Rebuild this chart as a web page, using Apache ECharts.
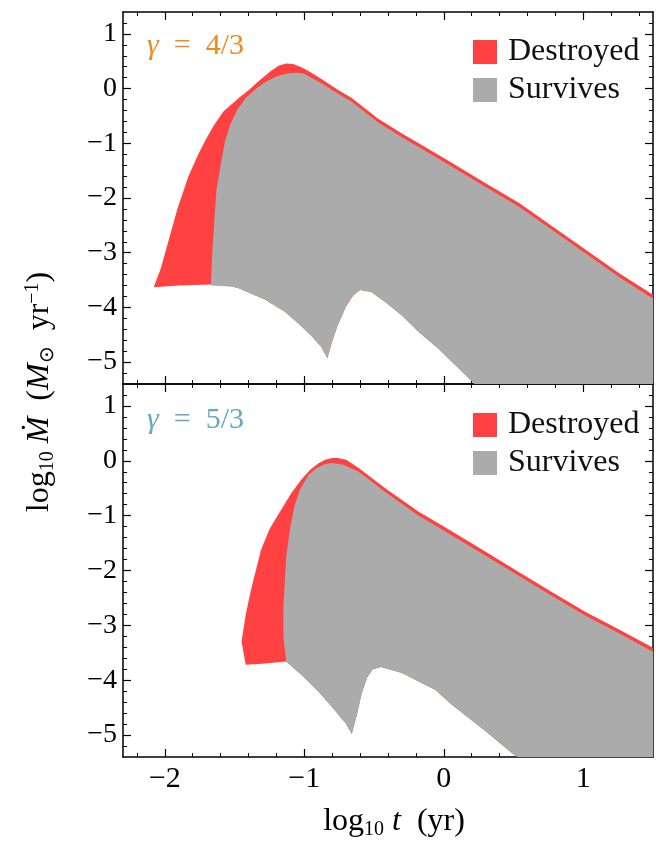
<!DOCTYPE html>
<html>
<head>
<meta charset="utf-8">
<script src="https://cdn.jsdelivr.net/npm/echarts@6/dist/echarts.min.js"></script>
<style>html,body{margin:0;padding:0;background:#fff}#c{width:656px;height:841px}</style>
</head>
<body>
<div id="c"></div>
<script>
// ---- axis ticks ----
const xMajor = [-2, -1, 0, 1];
const xMinor = [-2.2, -1.8, -1.6, -1.4, -1.2, -0.8, -0.6, -0.4, -0.2, 0.2, 0.4, 0.6, 0.8, 1.2, 1.4];
const yMajor = [-5, -4, -3, -2, -1, 0, 1];
const yMinor = [-5.2, -4.8, -4.6, -4.4, -4.2, -3.8, -3.6, -3.4, -3.2, -2.8, -2.6, -2.4, -2.2,
                -1.8, -1.6, -1.4, -1.2, -0.8, -0.6, -0.4, -0.2, 0.2, 0.4, 0.6, 0.8, 1.2];

// ---- gamma = 4/3 panel ----
// upper envelope (Destroyed outer edge)
const outerA = [[-2.08,-3.63],[-2.03,-3.3],[-1.97,-2.75],[-1.91,-2.2],[-1.83,-1.6],[-1.76,-1.2],
  [-1.71,-0.95],[-1.65,-0.68],[-1.58,-0.42],[-1.47,-0.17],[-1.40,-0.03],[-1.33,0.13],[-1.24,0.32],
  [-1.18,0.42],[-1.13,0.46],[-1.08,0.45],[-1.03,0.4],[-0.97,0.32],[-0.88,0.18],[-0.76,-0.02],
  [-0.66,-0.17],[-0.47,-0.55],[-0.30,-0.82],[-0.18,-1.0],[0.06,-1.36],[0.30,-1.73],[0.54,-2.09],
  [0.78,-2.52],[1.02,-2.95],[1.26,-3.38],[1.5,-3.77]];
// Survives upper edge (boundary with Destroyed)
const innerA = [[-1.67,-3.6],[-1.66,-3.0],[-1.645,-2.4],[-1.63,-1.85],[-1.60,-1.4],[-1.57,-0.98],
  [-1.53,-0.65],[-1.48,-0.38],[-1.42,-0.17],[-1.35,-0.01],[-1.28,0.12],[-1.20,0.22],[-1.13,0.27],
  [-1.06,0.29],[-1.0,0.27],[-0.95,0.2],[-0.88,0.1],[-0.76,-0.09],[-0.66,-0.24],[-0.47,-0.62],
  [-0.30,-0.89],[-0.18,-1.07],[0.06,-1.43],[0.30,-1.8],[0.54,-2.16],[0.78,-2.59],[1.02,-3.02],
  [1.26,-3.45],[1.5,-3.84]];
// lower edge of the whole region
const lowerA = [[-2.08,-3.63],[-1.9,-3.6],[-1.67,-3.58],[-1.52,-3.62],[-1.47,-3.65],[-1.28,-3.86],
  [-1.14,-4.08],[-1.04,-4.3],[-0.95,-4.52],[-0.88,-4.72],[-0.835,-4.93],[-0.80,-4.62],[-0.76,-4.32],
  [-0.70,-3.98],[-0.65,-3.78],[-0.60,-3.68],[-0.52,-3.72],[-0.42,-3.9],[-0.30,-4.15],[-0.18,-4.45],
  [-0.04,-4.75],[0.08,-5.05],[0.22,-5.4],[1.5,-5.4]];

// ---- gamma = 5/3 panel ----
const outerB = [[-1.42,-3.72],[-1.45,-3.3],[-1.42,-2.8],[-1.38,-2.33],[-1.31,-1.62],[-1.25,-1.25],
  [-1.18,-0.95],[-1.09,-0.58],[-1.02,-0.34],[-0.96,-0.17],[-0.90,-0.05],[-0.85,0.02],[-0.80,0.05],
  [-0.76,0.05],[-0.70,0.02],[-0.61,-0.13],[-0.42,-0.5],[-0.18,-0.93],[0.0,-1.2],[0.30,-1.66],
  [0.54,-2.03],[0.78,-2.4],[1.02,-2.76],[1.26,-3.08],[1.5,-3.41]];
const innerB = [[-1.13,-3.66],[-1.15,-3.2],[-1.15,-2.66],[-1.13,-1.75],[-1.10,-1.2],[-1.07,-0.82],
  [-1.03,-0.52],[-0.97,-0.26],[-0.91,-0.13],[-0.85,-0.06],[-0.80,-0.04],[-0.72,-0.07],[-0.61,-0.2],
  [-0.42,-0.57],[-0.18,-1.0],[0.0,-1.27],[0.30,-1.73],[0.54,-2.1],[0.78,-2.47],[1.02,-2.83],
  [1.26,-3.15],[1.5,-3.48]];
const lowerB = [[-1.42,-3.72],[-1.3,-3.7],[-1.13,-3.66],[-1.0,-3.95],[-0.9,-4.2],[-0.78,-4.55],
  [-0.70,-4.8],[-0.66,-4.98],[-0.62,-4.6],[-0.59,-4.25],[-0.55,-3.95],[-0.51,-3.8],[-0.45,-3.76],
  [-0.30,-3.87],[-0.06,-4.18],[0.06,-4.45],[0.30,-4.93],[0.49,-5.33],[0.53,-5.4],[1.5,-5.4]];

const RED = '#FF4141', GRAY = '#ABABAB';
const FONT = 'Liberation Serif';

function polys(outer, inner, lower) {
  const low = lower.slice(0, lower.length - 1); // drop frame corner
  const corner = lower[lower.length - 1];
  const red = outer.concat([corner], low.slice().reverse());
  const grayLow = low.filter(p => p[0] > inner[0][0]);
  const gray = inner.concat([corner], grayLow.slice().reverse());
  return { red, gray };
}
const PA = polys(outerA, innerA, lowerA);
const PB = polys(outerB, innerB, lowerB);

function polySeries(name, pts, color, axisIdx) {
  return {
    type: 'custom', name, xAxisIndex: axisIdx, yAxisIndex: axisIdx, clip: true,
    itemStyle: { color }, data: pts, encode: { x: 0, y: 1 }, silent: true,
    renderItem: function (params, api) {
      if (params.dataIndex !== 0) return null;
      return { type: 'polygon', shape: { points: pts.map(p => api.coord(p)) }, style: { fill: color } };
    }
  };
}

const minus = v => String(v).replace('-', '\u2212');
const lineStyle = { color: '#000', width: 1.5 };

function xAxes(gi, showLabels) {
  const base = { gridIndex: gi, type: 'value', min: -2.3, max: 1.5, splitLine: { show: false } };
  return [
    Object.assign({}, base, { position: 'bottom', axisLine: { show: true, onZero: false, lineStyle },
      axisTick: { show: true, inside: true, length: 8, customValues: xMajor, lineStyle: { color: '#000', width: 1.2 } },
      axisLabel: { show: showLabels, customValues: xMajor, formatter: minus, margin: 7,
        fontFamily: FONT, fontSize: 30, color: '#000' } }),
    Object.assign({}, base, { position: 'bottom', axisLine: { show: false, onZero: false },
      axisTick: { show: true, inside: true, length: 4, customValues: xMinor, lineStyle: { color: '#000', width: 1 } },
      axisLabel: { show: false } }),
    Object.assign({}, base, { position: 'top', axisLine: { show: true, onZero: false, lineStyle },
      axisTick: { show: true, inside: true, length: 8, customValues: xMajor, lineStyle: { color: '#000', width: 1.2 } },
      axisLabel: { show: false } }),
    Object.assign({}, base, { position: 'top', axisLine: { show: false, onZero: false },
      axisTick: { show: true, inside: true, length: 4, customValues: xMinor, lineStyle: { color: '#000', width: 1 } },
      axisLabel: { show: false } })
  ];
}
function yAxes(gi) {
  const base = { gridIndex: gi, type: 'value', min: -5.4, max: 1.4, splitLine: { show: false } };
  return [
    Object.assign({}, base, { position: 'left', axisLine: { show: true, onZero: false, lineStyle },
      axisTick: { show: true, inside: true, length: 8, customValues: yMajor, lineStyle: { color: '#000', width: 1.2 } },
      axisLabel: { show: true, customValues: yMajor, formatter: minus, margin: 6,
        fontFamily: FONT, fontSize: 28, color: '#000' } }),
    Object.assign({}, base, { position: 'left', axisLine: { show: false, onZero: false },
      axisTick: { show: true, inside: true, length: 4, customValues: yMinor, lineStyle: { color: '#000', width: 1 } },
      axisLabel: { show: false } }),
    Object.assign({}, base, { position: 'right', axisLine: { show: true, onZero: false, lineStyle },
      axisTick: { show: true, inside: true, length: 8, customValues: yMajor, lineStyle: { color: '#000', width: 1.2 } },
      axisLabel: { show: false } }),
    Object.assign({}, base, { position: 'right', axisLine: { show: false, onZero: false },
      axisTick: { show: true, inside: true, length: 4, customValues: yMinor, lineStyle: { color: '#000', width: 1 } },
      axisLabel: { show: false } })
  ];
}

function legendAt(top) {
  return {
    data: ['Destroyed', 'Survives'], orient: 'vertical', left: 468, top: top,
    icon: 'rect', itemWidth: 24, itemHeight: 24, itemGap: 6, selectedMode: false,
    textStyle: { fontFamily: FONT, fontSize: 32, color: '#111', padding: [0, 0, 0, 6] }
  };
}

function gammaText(label, y, color) {
  return {
    type: 'text', left: 147, top: y, silent: true,
    style: {
      rich: {
        g: { fontFamily: FONT, fontStyle: 'italic', fontSize: 30, fill: color },
        t: { fontFamily: FONT, fontSize: 30, fill: color }
      },
      text: '{g|\u03b3}{t|\u2002=\u2002' + label + '}'
    }
  };
}

const chart = echarts.init(document.getElementById('c'), null, { renderer: 'canvas' });
chart.setOption({
  backgroundColor: '#fff',
  animation: false,
  grid: [
    { left: 123, top: 12, width: 530, height: 372 },
    { left: 123, top: 384, width: 530, height: 373 }
  ],
  xAxis: xAxes(0, false).concat(xAxes(1, true)),
  yAxis: yAxes(0).concat(yAxes(1)),
  legend: [legendAt(31), legendAt(404)],
  series: [
    polySeries('Destroyed', PA.red, RED, 0),
    polySeries('Survives', PA.gray, GRAY, 0),
    polySeries('Destroyed', PB.red, RED, 4),
    polySeries('Survives', PB.gray, GRAY, 4)
  ],
  graphic: [
    gammaText('4/3', 31, '#EE8A1E'),
    gammaText('5/3', 405, '#68A8C0'),
    {
      type: 'text', x: 394, y: 822, silent: true,
      style: {
        align: 'center', verticalAlign: 'middle',
        rich: {
          n: { fontFamily: FONT, fontSize: 32, fill: '#000' },
          s: { fontFamily: FONT, fontSize: 20, fill: '#000', padding: [15, 0, 0, 0] },
          i: { fontFamily: FONT, fontSize: 32, fontStyle: 'italic', fill: '#000' }
        },
        text: '{n|log}{s|10}{i| t}{n|\u2002(yr)}'
      }
    },
    {
      type: 'text', x: 40, y: 392, rotation: Math.PI / 2, silent: true,
      style: {
        align: 'center', verticalAlign: 'middle',
        rich: {
          n: { fontFamily: FONT, fontSize: 32, fill: '#000' },
          s: { fontFamily: FONT, fontSize: 20, fill: '#000', padding: [15, 0, 0, 0] },
          p: { fontFamily: FONT, fontSize: 20, fill: '#000', padding: [0, 0, 15, 0] },
          i: { fontFamily: FONT, fontSize: 32, fontStyle: 'italic', fill: '#000' }
        },
        text: '{n|log}{s|10}{i| \u1E40}{n|\u2002(}{i|M}{s|\u2299}{n|\u2002yr}{p|\u22121}{n|)}'
      }
    }
  ]
});
</script>
</body>
</html>
